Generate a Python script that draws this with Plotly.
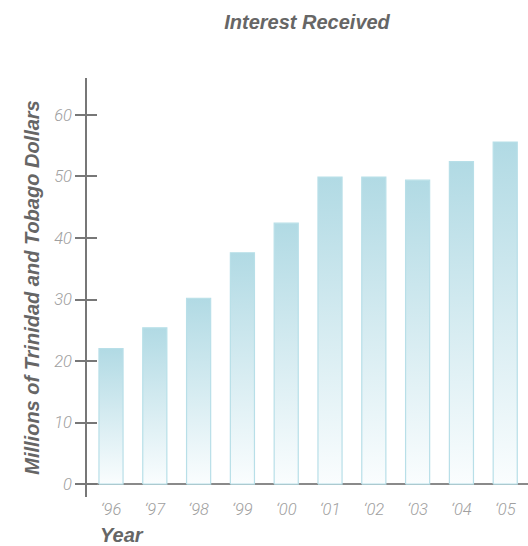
import plotly.graph_objects as go

years = ["\u201896", "\u201897", "\u201898", "\u201899", "\u201800",
         "\u201801", "\u201802", "\u201803", "\u201804", "\u201805"]
values = [22.0, 25.4, 30.2, 37.6, 42.4, 49.9, 49.9, 49.4, 52.4, 55.6]
y_ticks = [0, 10, 20, 30, 40, 50, 60]

bar_w = 0.55
fig = go.Figure()
for i, v in enumerate(values):
    x0, x1 = i - bar_w / 2, i + bar_w / 2
    fig.add_trace(go.Scatter(
        x=[x0, x0, x1, x1, x0], y=[0, v, v, 0, 0],
        mode="lines", fill="toself",
        fillgradient=dict(type="vertical",
                          colorscale=[[0, "#fafdfe"], [1, "#b1dae4"]]),
        line=dict(color="#b8dfe8", width=1.2),
        hoverinfo="skip", showlegend=False,
    ))
# invisible helper so the overlaid tick axis is drawn
fig.add_trace(go.Scatter(x=[0], y=[values[0]], yaxis="y2", mode="markers",
                         marker=dict(opacity=0), hoverinfo="skip", showlegend=False))

tick_font = dict(family="Roboto", size=16.5, color="#a0a0a0", style="italic", weight=300)
title_font = dict(family="Liberation Sans", size=20, color="#666666", style="italic", weight="bold")

fig.update_layout(
    width=528, height=546,
    margin=dict(l=87, r=0, t=78, b=49),
    paper_bgcolor="white", plot_bgcolor="white",
    title=dict(text="Interest Received", x=0.5815, xanchor="center", y=0.96, yanchor="middle",
               font=title_font),
    xaxis=dict(range=[-0.548, 9.52], tickmode="array", tickvals=list(range(len(years))),
               ticktext=years, showline=False, showgrid=False, zeroline=False,
               ticks="", tickfont=tick_font),
    yaxis=dict(range=[-2.1, 66], tickmode="array", tickvals=y_ticks,
               showline=True, linecolor="#777777", linewidth=1.5,
               ticks="outside", ticklen=10, tickcolor="#777777", tickwidth=1.5,
               showgrid=False, zeroline=True, zerolinecolor="#8a8a8a", zerolinewidth=2,
               tickfont=tick_font,
               title=dict(text="Millions of Trinidad and Tobago Dollars", font=title_font,
                          standoff=9)),
    yaxis2=dict(range=[-2.1, 66], overlaying="y", side="left", tickmode="array",
                tickvals=y_ticks, ticks="inside", ticklen=10, tickcolor="#777777",
                tickwidth=1.5, showticklabels=False, showline=False, showgrid=False,
                zeroline=False),
)
fig.add_annotation(text="Year", xref="paper", yref="paper", x=0.079, y=-0.091,
                   xanchor="center", yanchor="middle", showarrow=False,
                   font=dict(family="Liberation Sans", size=20, color="#666666",
                             style="italic", weight="bold"))
fig.write_html("out.html")
